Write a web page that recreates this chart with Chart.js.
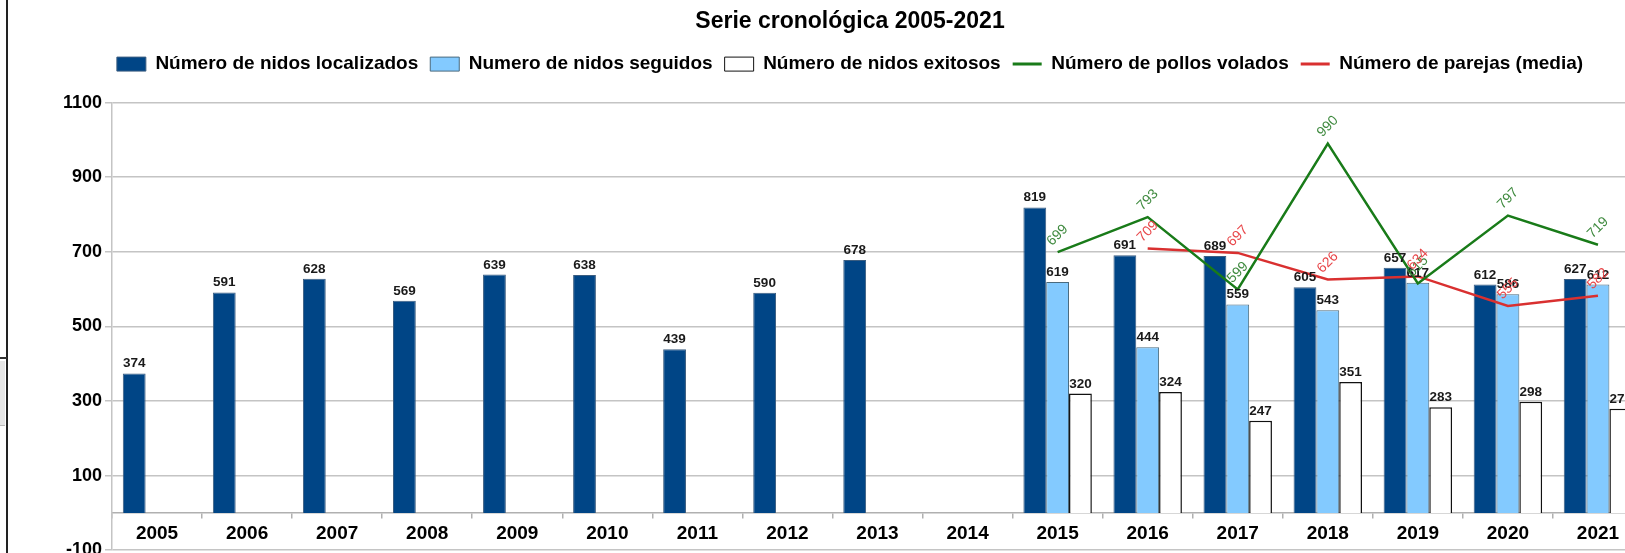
<!DOCTYPE html>
<html>
<head>
<meta charset="utf-8">
<title>Serie cronológica 2005-2021</title>
<script src="https://cdn.jsdelivr.net/npm/chart.js@4.4.0/dist/chart.umd.min.js"></script>
<style>
  html, body { margin: 0; padding: 0; background: #fff; overflow: hidden; }
  #wrap { position: relative; width: 1625px; height: 553px; overflow: hidden; }
  #myChart { position: absolute; left: 0; top: 0; }
  .edge { position: absolute; left: 6px; top: 0; width: 2px; height: 553px; background: #222; }
  .tab-line { position: absolute; left: 0; top: 357px; width: 7px; height: 2px; background: #333; }
  .tab-box { position: absolute; left: 0; top: 361px; width: 5px; height: 64px; background: #e6e6e6; border-bottom: 1px solid #bbb; }
</style>
</head>
<body>
<div id="wrap">
  <canvas id="myChart" width="1700" height="564"></canvas>
  <div class="edge"></div>
  <div class="tab-line"></div>
  <div class="tab-box"></div>
</div>
<script>
"use strict";

let years = ["2005", "2006", "2007", "2008", "2009", "2010", "2011", "2012", "2013",
  "2014", "2015", "2016", "2017", "2018", "2019", "2020", "2021"];

let nidosLocalizados = [374, 591, 628, 569, 639, 638, 439, 590, 678, null, 819, 691, 689, 605, 657, 612, 627];
let nidosSeguidos = [null, null, null, null, null, null, null, null, null, null, 619, 444, 559, 543, 617, 586, 612];
let nidosExitosos = [null, null, null, null, null, null, null, null, null, null, 320, 324, 247, 351, 283, 298, 279];
let pollosVolados = [null, null, null, null, null, null, null, null, null, null, 699, 793, 599, 990, 615, 797, 719];
let parejasMedia = [null, null, null, null, null, null, null, null, null, null, null, 709, 697, 626, 634, 555, 582];

let yTicks = { min: -100, max: 1100, step: 200 };

// value labels above bars and rotated labels on the lines
const valueLabels = {
  id: "valueLabels",
  afterDatasetsDraw(chart) {
    const ctx = chart.ctx;
    chart.data.datasets.forEach((ds, i) => {
      const meta = chart.getDatasetMeta(i);
      meta.data.forEach((el, j) => {
        const v = ds.data[j];
        if (v === null || v === undefined) {
          return;
        }
        ctx.save();
        if (ds.type === "line") {
          ctx.translate(el.x, el.y - 17);
          ctx.rotate(-Math.PI / 4);
          ctx.font = "14px 'Liberation Sans'";
          ctx.fillStyle = ds.labelColor;
          ctx.textAlign = "center";
          ctx.textBaseline = "middle";
          ctx.fillText(String(v), 0, 0);
        } else {
          ctx.font = "bold 13.5px 'Liberation Sans'";
          ctx.fillStyle = "#1a1a1a";
          ctx.textAlign = "center";
          ctx.textBaseline = "bottom";
          ctx.fillText(String(v), el.x, el.y - 3);
        }
        ctx.restore();
      });
    });
  }
};

// a bit more room under the legend
const legendGap = {
  id: "legendGap",
  beforeInit(chart) {
    const fit = chart.legend.fit;
    chart.legend.fit = function () {
      fit.call(this);
      this.height += 19;
    };
  }
};

const data = {
  labels: years,
  datasets: [
    {
      label: "Número de nidos localizados",
      data: nidosLocalizados,
      backgroundColor: "#004586",
      borderColor: "#3b5d80",
      borderWidth: 1,
      order: 1,
    },
    {
      label: "Numero de nidos seguidos",
      data: nidosSeguidos,
      backgroundColor: "#83caff",
      borderColor: "#4a6a7e",
      borderWidth: 1,
      order: 1,
    },
    {
      label: "Número de nidos exitosos",
      data: nidosExitosos,
      backgroundColor: "#ffffff",
      borderColor: "#111111",
      borderWidth: 1.5,
      order: 1,
    },
    {
      type: "line",
      label: "Número de pollos volados",
      data: pollosVolados,
      borderColor: "#197b19",
      borderWidth: 2.5,
      pointRadius: 0,
      fill: false,
      tension: 0,
      labelColor: "#3f8a3f",
      order: 0,
    },
    {
      type: "line",
      label: "Número de parejas (media)",
      data: parejasMedia,
      borderColor: "#d93030",
      borderWidth: 2.5,
      pointRadius: 0,
      fill: false,
      tension: 0,
      labelColor: "#e8474a",
      order: 0,
    },
  ],
};

const config = {
  type: "bar",
  data: data,
  plugins: [valueLabels, legendGap],
  options: {
    responsive: false,
    animation: false,
    devicePixelRatio: 1,
    layout: { padding: 0 },
    datasets: {
      bar: { categoryPercentage: 0.76, barPercentage: 1.0 },
    },
    plugins: {
      tooltip: { enabled: false },
      title: {
        display: true,
        text: "Serie cronológica 2005-2021",
        color: "#000",
        font: { family: "'Liberation Sans', Arial, sans-serif", size: 23, weight: "bold" },
        padding: { top: 8, bottom: 7 },
      },
      legend: {
        display: true,
        labels: {
          color: "#000",
          font: { family: "'Liberation Sans', Arial, sans-serif", size: 19, weight: "bold" },
          usePointStyle: true,
          pointStyleWidth: 29,
          boxHeight: 14,
          padding: 12,
          generateLabels(chart) {
            const items = Chart.defaults.plugins.legend.labels.generateLabels(chart);
            items.sort((a, b) => a.datasetIndex - b.datasetIndex);
            items.forEach((it) => {
              const ds = chart.data.datasets[it.datasetIndex];
              if (ds.type === "line") {
                it.pointStyle = "line";
                it.strokeStyle = ds.borderColor;
                it.lineWidth = 3;
              } else {
                it.pointStyle = "rect";
                it.fillStyle = ds.backgroundColor;
                it.strokeStyle = ds.borderColor;
                it.lineWidth = 1;
              }
            });
            return items;
          },
        },
      },
    },
    scales: {
      x: {
        type: "category",
        position: { y: 0 },
        offset: true,
        grid: {
          offset: true,
          drawOnChartArea: false,
          drawTicks: true,
          tickLength: 5,
          color: "#b0b0b0",
          lineWidth: 1.5,
        },
        border: { display: true, color: "#b0b0b0", width: 1.5 },
        ticks: {
          color: "#000",
          padding: 4,
          maxRotation: 0,
          autoSkip: false,
          font: { family: "'Liberation Sans', Arial, sans-serif", size: 19, weight: "bold" },
        },
      },
      y: {
        min: yTicks.min,
        max: yTicks.max,
        afterFit(scale) {
          scale.width = 112;
        },
        grid: {
          color: "#c4c4c4",
          lineWidth: 1.5,
          tickLength: 7,
        },
        border: { display: true, color: "#c4c4c4", width: 1.5 },
        ticks: {
          stepSize: yTicks.step,
          color: "#000",
          padding: 3,
          font: { family: "'Liberation Sans', Arial, sans-serif", size: 18, weight: "bold" },
          callback: (value) => String(value),
        },
      },
      // empty right-hand axis: keeps the plot right edge off the page
      yRight: {
        position: "right",
        min: yTicks.min,
        max: yTicks.max,
        afterFit(scale) {
          scale.width = 57;
        },
        grid: { display: false },
        border: { display: false },
        ticks: { display: false },
      },
    },
  },
};

const canvasChart = document.getElementById("myChart");
new Chart(canvasChart, config);
</script>
</body>
</html>
